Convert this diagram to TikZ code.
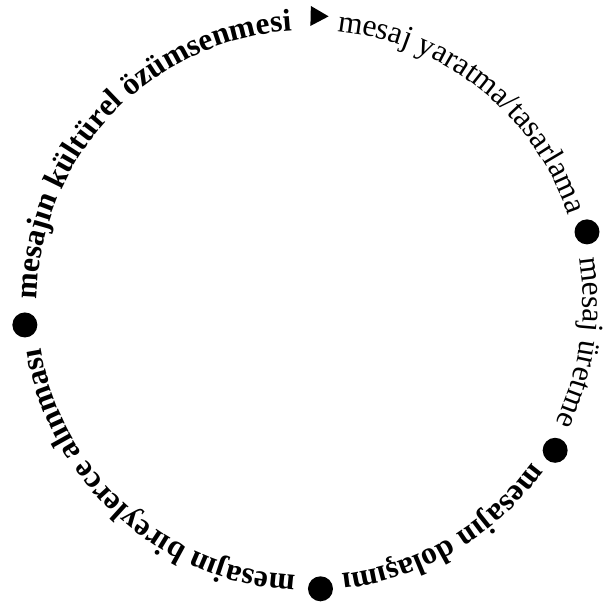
\documentclass[tikz,border=0pt]{standalone}
\usepackage{fontspec}
\setmainfont{Liberation Serif}
\usepackage{tikz}
\usetikzlibrary{decorations.text,shapes.geometric}
\newcommand{\ringreg}{\fontsize{31.5}{36}\selectfont}
\newcommand{\ringbold}{\fontsize{31.5}{36}\selectfont\bfseries}

\begin{document}
\begin{tikzpicture}[
        x=1pt, y=1pt,
        dot/.style={circle, fill=black, inner sep=0pt, minimum size=25pt},
        pointer/.style={isosceles triangle, isosceles triangle stretches,
            fill=black, inner sep=0pt, minimum width=20pt, minimum height=18pt},
        ringtext/.style={decorate,
            decoration={text along path, text align=center, text={#1}}}
    ]
        \useasboundingbox (0,0) rectangle (602,-612);
        \coordinate (ctr) at (310,-303);

        % start marker and bullets on the ring
        \node[pointer, rotate=-1.3] (start) at ([shift={(88.7:287)}]ctr) {};
        \node[dot] (b1) at ([shift={(14.4:286)}]ctr) {};
        \node[dot] (b2) at ([shift={(-31:286)}]ctr) {};
        \node[dot] (b3) at ([shift={(-87.9:286)}]ctr) {};
        \node[dot] (b4) at ([shift={(184.4:286)}]ctr) {};

        % stages, read clockwise
        \path[ringtext={|\ringreg|mesaj yaratma/tasarlama}]
            ([shift={(88.7:273)}]ctr) arc[start angle=88.7, end angle=14.4, radius=273];
        \path[ringtext={|\ringreg|mesaj üretme}]
            ([shift={(14.4:273)}]ctr) arc[start angle=14.4, end angle=-31, radius=273];
        \path[ringtext={|\ringbold|mesajın dolaşımı}]
            ([shift={(-31:273)}]ctr) arc[start angle=-31, end angle=-87.9, radius=273];
        \path[ringtext={|\ringbold|mesajın bireylerce alınması}]
            ([shift={(-87.9:273)}]ctr) arc[start angle=-87.9, end angle=-175.6, radius=273];
        \path[ringtext={|\ringbold|mesajın kültürel özümsenmesi}]
            ([shift={(184.4:273)}]ctr) arc[start angle=184.4, end angle=88.7, radius=273];
\end{tikzpicture}
\end{document}
